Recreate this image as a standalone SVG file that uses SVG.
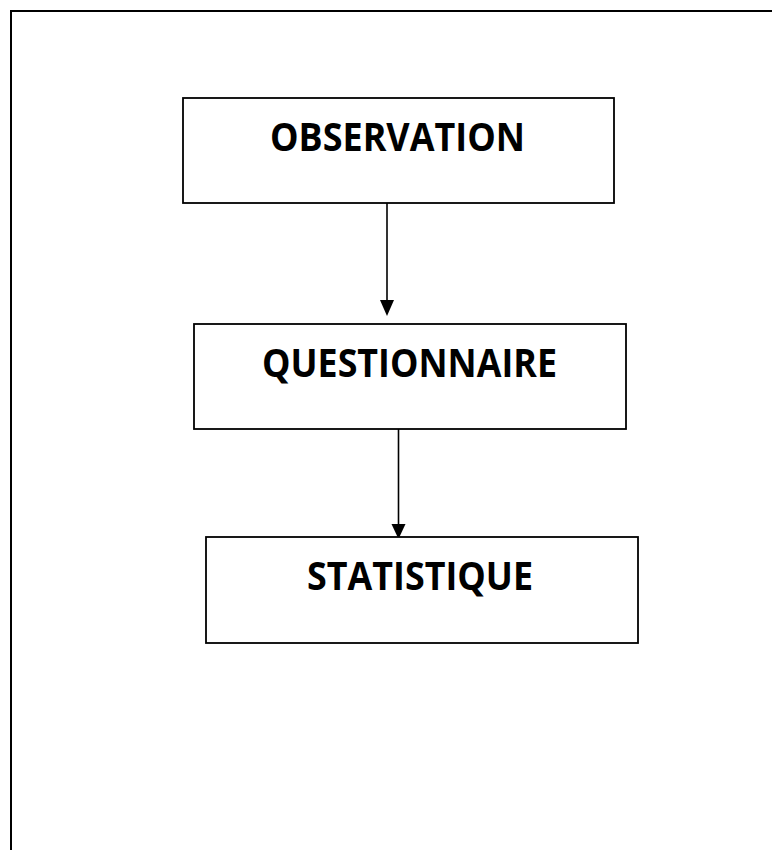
<svg xmlns="http://www.w3.org/2000/svg" width="772" height="850" viewBox="0 0 772 850">
  <defs>
    <style>
      .frame { fill: none; stroke: #000; stroke-width: 2; }
      .box { fill: #fff; stroke: #000; stroke-width: 1.8; }
      .label { font-family: "Open Sans", "Liberation Sans", sans-serif; font-weight: bold; font-size: 39px; fill: #000; }
      .link { stroke: #000; stroke-width: 1.6; fill: none; }
      .head { fill: #000; }
    </style>
  </defs>

  <rect width="772" height="850" fill="#fff"/>

  <!-- page frame, running off the right and bottom edges -->
  <rect class="frame" x="11" y="11" width="820" height="900"/>

  <g id="connectors">
    <line class="link" x1="387" y1="203" x2="387" y2="302"/>
    <path class="head" d="M380,300 L394,300 L387,316 Z"/>
    <line class="link" x1="398.5" y1="429" x2="398.5" y2="526"/>
    <path class="head" d="M391.5,524 L405.5,524 L398.5,539 Z"/>
  </g>

  <g id="observation">
    <rect class="box" x="183" y="98" width="431" height="105"/>
    <text class="label" x="270" y="151" textLength="255" lengthAdjust="spacingAndGlyphs">OBSERVATION</text>
  </g>

  <g id="questionnaire">
    <rect class="box" x="194" y="324" width="432" height="105"/>
    <text class="label" x="262" y="377" textLength="295" lengthAdjust="spacingAndGlyphs">QUESTIONNAIRE</text>
  </g>

  <g id="statistique">
    <rect class="box" x="206" y="537" width="432" height="106"/>
    <text class="label" x="307" y="590" textLength="226" lengthAdjust="spacingAndGlyphs">STATISTIQUE</text>
  </g>
</svg>
